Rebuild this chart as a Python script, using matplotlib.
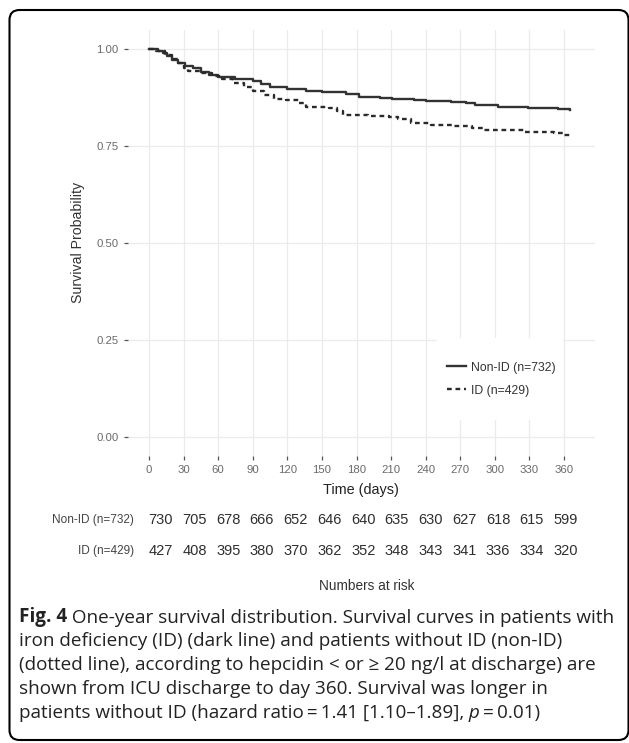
import matplotlib
matplotlib.use('Agg')
import matplotlib.pyplot as plt
from matplotlib.patches import FancyBboxPatch, Rectangle
from matplotlib.lines import Line2D
from matplotlib.text import Annotation

# Kaplan-Meier step points (day, survival)
dias_nonid = [0, 8, 12, 16, 20, 25, 31, 38, 45, 52, 60, 75, 90, 97, 105, 120,
              136, 150, 171, 182, 200, 211, 230, 240, 262, 275, 283, 303, 329,
              355, 365]
surv_nonid = [1.000, 0.995, 0.990, 0.982, 0.972, 0.965, 0.957, 0.950, 0.940,
              0.932, 0.927, 0.922, 0.917, 0.910, 0.901, 0.896, 0.891, 0.888,
              0.883, 0.877, 0.874, 0.871, 0.868, 0.866, 0.864, 0.860, 0.855,
              0.850, 0.847, 0.845, 0.843]

dias_id = [0, 6, 14, 20, 25, 30, 34, 44, 55, 63, 73, 82, 90, 100, 108, 119,
           130, 136, 156, 163, 168, 190, 208, 216, 227, 245, 265, 280, 291,
           325, 351, 360, 365]
surv_id = [1.000, 0.995, 0.984, 0.975, 0.963, 0.952, 0.944, 0.939, 0.930,
           0.922, 0.911, 0.902, 0.892, 0.880, 0.871, 0.868, 0.860, 0.851,
           0.849, 0.840, 0.830, 0.828, 0.824, 0.819, 0.810, 0.805, 0.801,
           0.797, 0.791, 0.787, 0.784, 0.778, 0.776]

x_ticks = list(range(0, 361, 30))
y_ticks = [0.0, 0.25, 0.50, 0.75, 1.0]
y_labels = ['0.00', '0.25', '0.50', '0.75', '1.00']

grupos = ['Non-ID (n=732)', 'ID (n=429)']
riesgo_nonid = [730, 705, 678, 666, 652, 646, 640, 635, 630, 627, 618, 615, 599]
riesgo_id = [427, 408, 395, 380, 370, 362, 352, 348, 343, 341, 336, 334, 320]

W, H = 629, 743
FUENTE = ['Liberation Sans', 'DejaVu Sans']
FUENTE_PIE = ['Open Sans', 'DejaVu Sans']
plt.rcParams['font.family'] = FUENTE


def fx(px):
    return px / W


def fy(py):
    return 1 - py / H


fig = plt.figure(figsize=(W / 100, H / 100), dpi=100)
fig.patch.set_facecolor('white')

# panel principal
p_izq, p_der, p_arr, p_aba = 127.8, 595, 29.6, 456
ax = fig.add_axes([fx(p_izq), fy(p_aba), (p_der - p_izq) / W, (p_aba - p_arr) / H])
ax.set_xlim(-18.4, 386.9)
ax.set_ylim(-0.05, 1.05)
for s in ax.spines.values():
    s.set_visible(False)
ax.set_axisbelow(True)
ax.grid(color='#ebebeb', linewidth=0.9)
ax.set_xticks(x_ticks)
ax.set_yticks(y_ticks)
ax.set_yticklabels(y_labels)
ax.tick_params(length=3, width=0.9, color='#555555', labelsize=8.2,
               labelcolor='#6a6a6a', pad=3.5)

estilo_id = (0, (2.0, 1.6))
ax.step(dias_nonid, surv_nonid, where='post', color='#333333', lw=1.7,
        zorder=3)
ax.step(dias_id, surv_id, where='post', color='#2a2a2a', lw=1.7,
        linestyle=estilo_id, zorder=3)

ax.set_xlabel('Time (days)', fontsize=10.4, color='#222222', labelpad=6)
ax.set_ylabel('Survival Probability', fontsize=10.2, color='#333333',
              labelpad=8)

# fondo blanco de la leyenda
ax.add_patch(Rectangle((0.6618, 0.0844), 0.2697, 0.1923,
                       transform=ax.transAxes, facecolor='white',
                       edgecolor='none', zorder=1))
manejadores = [Line2D([], [], color='#333333', lw=1.7),
               Line2D([], [], color='#2a2a2a', lw=1.7, linestyle=estilo_id)]
ax.legend(manejadores, grupos, loc='center left',
          bbox_to_anchor=(0.6826, 0.180), frameon=False, fontsize=8.8,
          handlelength=1.6, handletextpad=0.35, labelspacing=0.9,
          borderpad=0, borderaxespad=0, labelcolor='#333333')

# tabla de numeros en riesgo
ax_r = fig.add_axes([fx(p_izq), fy(600), (p_der - p_izq) / W, 100 / H])
ax_r.set_xlim(-0.975, 12.87)
ax_r.set_ylim(600, 500)
ax_r.axis('off')
for fila, valores, etiqueta in [(520, riesgo_nonid, grupos[0]),
                                (551, riesgo_id, grupos[1])]:
    for i, n in enumerate(valores):
        ax_r.text(i, fila, str(n), ha='center', va='center', fontsize=10.5,
                  color='#2e2e2e')
    ax_r.text(-0.79, fila, etiqueta, ha='right', va='center', fontsize=8.5,
              color='#444444')
ax_r.text(6.1, 585.7, 'Numbers at risk', ha='center', va='center',
          fontsize=9.8, color='#333333')

# pie de figura
lineas = [
    [('Fig. 4', 'b'), (' One-year survival distribution. Survival curves in patients with', 'r')],
    [('iron deficiency (ID) (dark line) and patients without ID (non-ID)', 'r')],
    [('(dotted line), according to hepcidin < or \u2265 20 ng/l at discharge) are', 'r')],
    [('shown from ICU discharge to day 360. Survival was longer in', 'r')],
    [('patients without ID (hazard ratio\u2009=\u20091.41 [1.10\u20131.89],', 'r'),
     (' p', 'i'), ('\u2009=\u20090.01)', 'r')],
]
TAM_PIE = 13.6
for k, piezas in enumerate(lineas):
    y = 617 + 24 * k
    t = None
    for texto, estilo in piezas:
        kw = dict(fontsize=TAM_PIE, color='#222222', family=FUENTE_PIE)
        if estilo == 'b':
            kw['fontweight'] = 'bold'
        if estilo == 'i':
            kw['fontstyle'] = 'italic'
        if t is None:
            t = fig.text(fx(19), fy(y), texto, ha='left', va='center', **kw)
        else:
            t = Annotation(texto, xy=(1, 0), xycoords=t, ha='left',
                           va='bottom', **kw)
            fig.add_artist(t)

# marco redondeado
marco = FancyBboxPatch((9.5, 3), 619, 730,
                       boxstyle='round,pad=0,rounding_size=10',
                       transform=None, fill=False, edgecolor='black',
                       linewidth=1.5)
fig.add_artist(marco)

fig.savefig('out.png', dpi=100)
